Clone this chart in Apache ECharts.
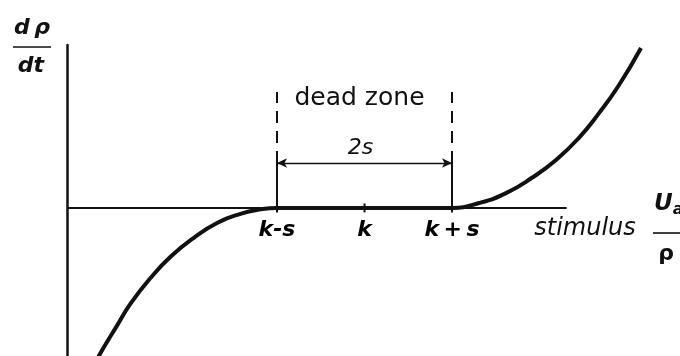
<!DOCTYPE html>
<html>
<head>
<meta charset="utf-8">
<script src="https://cdn.jsdelivr.net/npm/echarts@6/dist/echarts.min.js"></script>
<style>
  html, body { margin: 0; padding: 0; background: #fff; }
  #c { width: 680px; height: 356px; }
</style>
</head>
<body>
<div id="c"></div>
<script>
// Rate of change dρ/dt against the stimulus: zero inside the dead zone [k-s, k+s],
// growing on either side of it. Units: k = 0, s = 1.
const curveX = [-3.15, -3.017, -2.823, -2.674, -2.446, -2.217, -1.954, -1.68, -1.417, -1.189, -1.0,
                -0.5, 0, 0.5,
                1.0, 1.31, 1.617, 1.914, 2.189, 2.451, 2.680, 2.909, 3.160];
const curveY = [-3.38, -2.94, -2.37, -1.94, -1.42, -0.99, -0.61, -0.30, -0.12, -0.03, 0,
                0, 0, 0,
                0, 0.10, 0.30, 0.61, 0.97, 1.42, 1.92, 2.49, 3.24];

// stimulus axis ticks
const tickValues = [-1, 0, 1];
const tickLabels = ['k-s', 'k', 'k\u2009+\u2009s'];

// extent of the drawn horizontal axis
const axisX = [-3.4, 2.31];
const axisY = [0, 0];

// dead zone bounds, the 2s span arrow and the top of the dashed markers
const deadZone = [-1, 1];
const spanLevel = 0.91;
const markerTop = 2.35;

const INK = '#111';

const chart = echarts.init(document.getElementById('c'));

const markerLines = [];
deadZone.forEach(x => {
  markerLines.push([
    { coord: [x, spanLevel], lineStyle: { type: [12, 8], width: 2, color: INK } },
    { coord: [x, markerTop] }
  ]);
  markerLines.push([
    { coord: [x, 0], lineStyle: { type: 'solid', width: 2, color: INK } },
    { coord: [x, spanLevel] }
  ]);
});

chart.setOption({
  animation: false,
  backgroundColor: '#fff',
  grid: { left: 67, right: 18, top: 45, bottom: 0, containLabel: false, outerBoundsMode: 'none' },
  xAxis: {
    type: 'value',
    min: -3.4,
    max: 3.4,
    show: false
  },
  yAxis: {
    type: 'value',
    min: -3,
    max: 3.3,
    axisLine: { show: true, onZero: false, lineStyle: { color: INK, width: 2.5 } },
    axisTick: { show: false },
    axisLabel: { show: false },
    splitLine: { show: false }
  },
  series: [
    {
      name: 'stimulus axis',
      type: 'line',
      data: axisX.map((x, i) => [x, axisY[i]]),
      symbol: 'none',
      silent: true,
      lineStyle: { color: INK, width: 2 },
      z: 2
    },
    {
      name: 'response',
      type: 'line',
      data: curveX.map((x, i) => [x, curveY[i]]),
      smooth: 0.5,
      symbol: 'none',
      silent: true,
      lineStyle: { color: INK, width: 4 },
      z: 3
    },
    {
      // tick marks and labels k-s, k, k+s on the stimulus axis
      name: 'ticks',
      type: 'scatter',
      data: tickValues.map(v => [v, 0]),
      symbol: 'rect',
      symbolSize: [2, 9],
      silent: true,
      itemStyle: { color: INK, opacity: 1 },
      label: {
        show: true,
        position: 'bottom',
        distance: 7,
        formatter: p => tickLabels[p.dataIndex],
        fontFamily: 'DejaVu Sans',
        fontStyle: 'italic',
        fontWeight: 'bold',
        fontSize: 22,
        color: '#000',
        opacity: 1,
        textBorderWidth: 0
      },
      z: 4
    },
    {
      name: 'dead zone markers',
      type: 'line',
      data: [],
      markLine: {
        silent: true,
        symbol: 'none',
        label: { show: false },
        data: markerLines
      }
    },
    {
      name: '2s span',
      type: 'line',
      data: [],
      markLine: {
        silent: true,
        symbol: ['arrow', 'arrow'],
        symbolSize: [7, 10],
        label: { show: false },
        lineStyle: { color: INK, width: 1.4, type: 'solid' },
        data: [[{ coord: [deadZone[0], spanLevel] }, { coord: [deadZone[1], spanLevel] }]]
      }
    }
  ]
});

const mid = chart.convertToPixel({ gridIndex: 0 }, [(deadZone[0] + deadZone[1]) / 2, spanLevel]);

chart.setOption({
  graphic: [
    // dρ/dt
    { type: 'text', x: 32, y: 28, style: { text: 'd\u2009ρ', font: 'italic bold 22px "DejaVu Sans"', fill: INK, align: 'center', verticalAlign: 'middle' } },
    { type: 'line', shape: { x1: 13, y1: 47, x2: 51, y2: 47 }, style: { stroke: INK, lineWidth: 1.6 } },
    { type: 'text', x: 31, y: 66, style: { text: 'dt', font: 'italic bold 22px "DejaVu Sans"', fill: INK, align: 'center', verticalAlign: 'middle' } },
    // dead zone caption and span label
    { type: 'text', x: mid[0] - 5, y: 98, style: { text: 'dead zone', font: '25px "DejaVu Sans"', fill: INK, align: 'center', verticalAlign: 'middle' } },
    { type: 'text', x: mid[0] - 4, y: 148, style: { text: '2s', font: 'italic 22px "DejaVu Sans"', fill: INK, align: 'center', verticalAlign: 'middle' } },
    // stimulus Ua/ρ
    { type: 'text', x: 585, y: 229, style: { text: 'stimulus', font: 'italic 24px "DejaVu Sans"', fill: INK, align: 'center', verticalAlign: 'middle' } },
    { type: 'text', x: 654, y: 204, style: {
        text: '{u|U}{a|a}',
        verticalAlign: 'middle',
        rich: {
          u: { font: 'italic bold 23px "DejaVu Sans"', fill: INK, color: INK },
          a: { font: 'italic bold 16px "DejaVu Sans"', fill: INK, color: INK, padding: [12, 0, 0, 0] }
        }
      } },
    { type: 'line', shape: { x1: 653, y1: 233, x2: 680, y2: 233 }, style: { stroke: INK, lineWidth: 1.6 } },
    { type: 'text', x: 666, y: 254, style: { text: 'ρ', font: 'bold 22px "DejaVu Sans"', fill: INK, align: 'center', verticalAlign: 'middle' } }
  ]
});
</script>
</body>
</html>
